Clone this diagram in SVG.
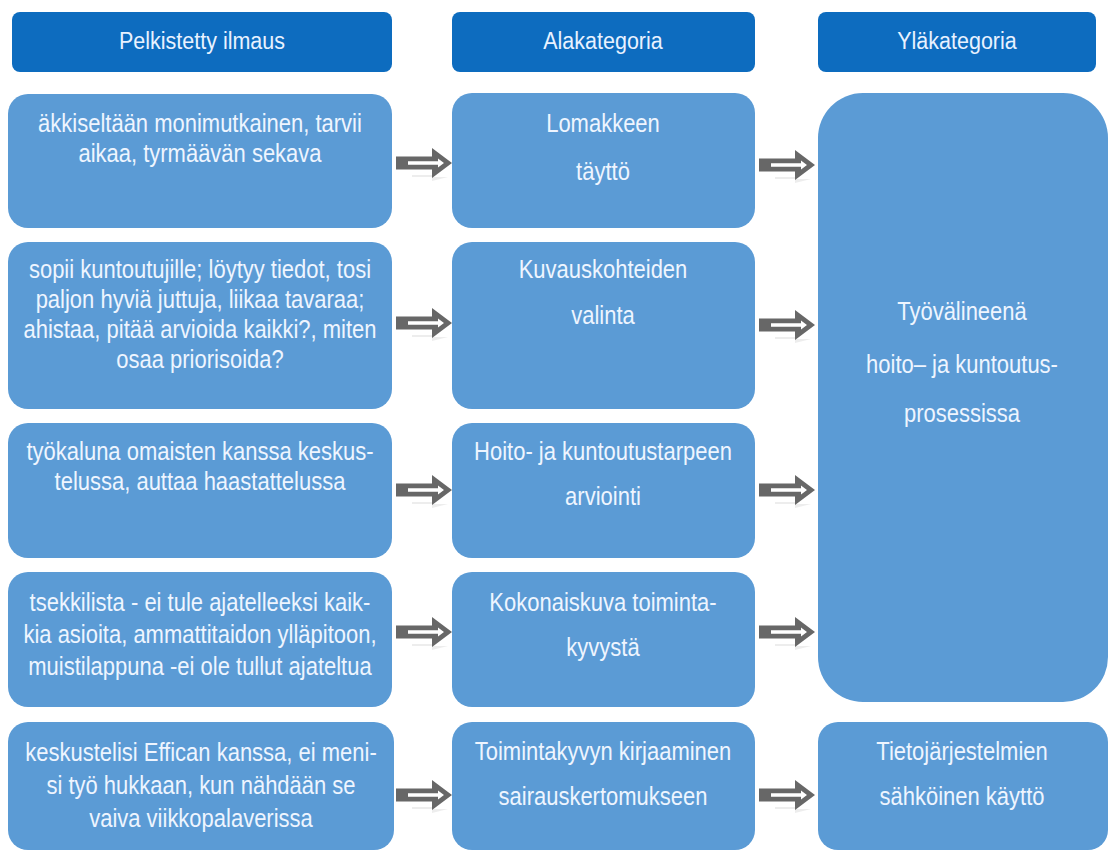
<svg xmlns="http://www.w3.org/2000/svg" width="1108" height="852" viewBox="0 0 1108 852">
  <defs>
    <style>
      .head { fill: #0d6cbf; }
      .box { fill: #5b9bd5; }
      .htxt { font-family: "Liberation Sans", Arial, sans-serif; font-size: 21.5px; fill: #e8f2ff; text-anchor: middle; }
      .txt { font-family: "Liberation Sans", Arial, sans-serif; font-size: 22px; fill: #eef5ff; text-anchor: middle; }
      .abody { fill: #676767; }
      .aline { fill: #ffffff; }
      .arefl { fill: #9a9a9a; opacity: 0.18; }
    </style>
    <!-- block arrow with a white core, tip at the origin -->
    <g id="arrow">
      <path class="arefl" d="M-40,12 H-20 V18 L-4,14 H-40 Z"/>
      <path class="abody" d="M-56,-6.5 H-20 V-15 L0,0 L-20,15 V6.5 H-56 Z"/>
      <path class="aline" d="M-44,-1.8 H-14 V-4.5 L-8,0 L-14,4.5 V1.8 H-44 Z"/>
    </g>
  </defs>

  <rect width="1108" height="852" fill="#ffffff"/>

  <!-- column headers; labels are stretched vertically about their baseline -->
  <g id="header-left">
    <rect class="head" x="12" y="12" width="380" height="60" rx="8"/>
    <text class="htxt" x="202" y="49" transform="matrix(1,0,0,1.15,0,-7.35)">Pelkistetty ilmaus</text>
  </g>
  <g id="header-middle">
    <rect class="head" x="452" y="12" width="303" height="60" rx="8"/>
    <text class="htxt" x="603" y="49" transform="matrix(1,0,0,1.15,0,-7.35)">Alakategoria</text>
  </g>
  <g id="header-right">
    <rect class="head" x="818" y="12" width="278" height="60" rx="8"/>
    <text class="htxt" x="957" y="49" transform="matrix(1,0,0,1.15,0,-7.35)">Yläkategoria</text>
  </g>

  <!-- row 1 -->
  <g id="expr-1">
    <rect class="box" x="8" y="94" width="384" height="134" rx="20"/>
    <text class="txt" x="200" y="132" transform="matrix(1,0,0,1.15,0,-19.8)">äkkiseltään monimutkainen, tarvii</text>
    <text class="txt" x="200" y="162" transform="matrix(1,0,0,1.15,0,-24.3)">aikaa, tyrmäävän sekava</text>
  </g>
  <g id="sub-1">
    <rect class="box" x="452" y="93" width="303" height="135" rx="20"/>
    <text class="txt" x="603" y="132" transform="matrix(1,0,0,1.15,0,-19.8)">Lomakkeen</text>
    <text class="txt" x="603" y="180" transform="matrix(1,0,0,1.15,0,-27)">täyttö</text>
  </g>

  <!-- row 2 -->
  <g id="expr-2">
    <rect class="box" x="8" y="242" width="384" height="167" rx="20"/>
    <text class="txt" x="200" y="278" transform="matrix(1,0,0,1.15,0,-41.7)">sopii kuntoutujille; löytyy tiedot, tosi</text>
    <text class="txt" x="200" y="308" transform="matrix(1,0,0,1.15,0,-46.2)">paljon hyviä juttuja, liikaa tavaraa;</text>
    <text class="txt" x="200" y="338" transform="matrix(1,0,0,1.15,0,-50.7)">ahistaa, pitää arvioida kaikki?, miten</text>
    <text class="txt" x="200" y="368" transform="matrix(1,0,0,1.15,0,-55.2)">osaa priorisoida?</text>
  </g>
  <g id="sub-2">
    <rect class="box" x="452" y="242" width="303" height="167" rx="20"/>
    <text class="txt" x="603" y="278" transform="matrix(1,0,0,1.15,0,-41.7)">Kuvauskohteiden</text>
    <text class="txt" x="603" y="324" transform="matrix(1,0,0,1.15,0,-48.6)">valinta</text>
  </g>

  <!-- row 3 -->
  <g id="expr-3">
    <rect class="box" x="8" y="423" width="384" height="135" rx="20"/>
    <text class="txt" x="200" y="460" transform="matrix(1,0,0,1.15,0,-69)">työkaluna omaisten kanssa keskus-</text>
    <text class="txt" x="200" y="490" transform="matrix(1,0,0,1.15,0,-73.5)">telussa, auttaa haastattelussa</text>
  </g>
  <g id="sub-3">
    <rect class="box" x="452" y="423" width="303" height="135" rx="20"/>
    <text class="txt" x="603" y="460" transform="matrix(1,0,0,1.15,0,-69)">Hoito- ja kuntoutustarpeen</text>
    <text class="txt" x="603" y="505" transform="matrix(1,0,0,1.15,0,-75.75)">arviointi</text>
  </g>

  <!-- row 4 -->
  <g id="expr-4">
    <rect class="box" x="8" y="572" width="384" height="135" rx="20"/>
    <text class="txt" x="200" y="611" transform="matrix(1,0,0,1.15,0,-91.65)">tsekkilista - ei tule ajatelleeksi kaik-</text>
    <text class="txt" x="200" y="643" transform="matrix(1,0,0,1.15,0,-96.45)">kia asioita, ammattitaidon ylläpitoon,</text>
    <text class="txt" x="200" y="675" transform="matrix(1,0,0,1.15,0,-101.25)">muistilappuna -ei ole tullut ajateltua</text>
  </g>
  <g id="sub-4">
    <rect class="box" x="452" y="572" width="303" height="135" rx="20"/>
    <text class="txt" x="603" y="611" transform="matrix(1,0,0,1.15,0,-91.65)">Kokonaiskuva toiminta-</text>
    <text class="txt" x="603" y="656" transform="matrix(1,0,0,1.15,0,-98.4)">kyvystä</text>
  </g>

  <!-- upper category spanning rows 1-4 -->
  <g id="main-1">
    <rect class="box" x="818" y="93" width="290" height="609" rx="45"/>
    <text class="txt" x="962" y="320" transform="matrix(1,0,0,1.15,0,-48)">Työvälineenä</text>
    <text class="txt" x="962" y="373" transform="matrix(1,0,0,1.15,0,-55.95)">hoito– ja kuntoutus-</text>
    <text class="txt" x="962" y="422" transform="matrix(1,0,0,1.15,0,-63.3)">prosessissa</text>
  </g>

  <!-- row 5 -->
  <g id="expr-5">
    <rect class="box" x="8" y="722" width="386" height="128" rx="20"/>
    <text class="txt" x="201" y="761" transform="matrix(1,0,0,1.15,0,-114.15)">keskustelisi Effican kanssa, ei meni-</text>
    <text class="txt" x="201" y="794" transform="matrix(1,0,0,1.15,0,-119.1)">si työ hukkaan, kun nähdään se</text>
    <text class="txt" x="201" y="827" transform="matrix(1,0,0,1.15,0,-124.05)">vaiva viikkopalaverissa</text>
  </g>
  <g id="sub-5">
    <rect class="box" x="452" y="722" width="303" height="128" rx="20"/>
    <text class="txt" x="603" y="760" transform="matrix(1,0,0,1.15,0,-114)">Toimintakyvyn kirjaaminen</text>
    <text class="txt" x="603" y="805" transform="matrix(1,0,0,1.15,0,-120.75)">sairauskertomukseen</text>
  </g>
  <g id="main-2">
    <rect class="box" x="818" y="722" width="290" height="128" rx="20"/>
    <text class="txt" x="962" y="760" transform="matrix(1,0,0,1.15,0,-114)">Tietojärjestelmien</text>
    <text class="txt" x="962" y="805" transform="matrix(1,0,0,1.15,0,-120.75)">sähköinen käyttö</text>
  </g>

  <!-- connectors -->
  <g id="connectors">
    <use href="#arrow" x="452" y="163"/>
    <use href="#arrow" x="815" y="165"/>
    <use href="#arrow" x="452" y="323"/>
    <use href="#arrow" x="815" y="325"/>
    <use href="#arrow" x="452" y="490"/>
    <use href="#arrow" x="815" y="490"/>
    <use href="#arrow" x="452" y="632"/>
    <use href="#arrow" x="815" y="632"/>
    <use href="#arrow" x="452" y="795"/>
    <use href="#arrow" x="815" y="795"/>
  </g>
</svg>
